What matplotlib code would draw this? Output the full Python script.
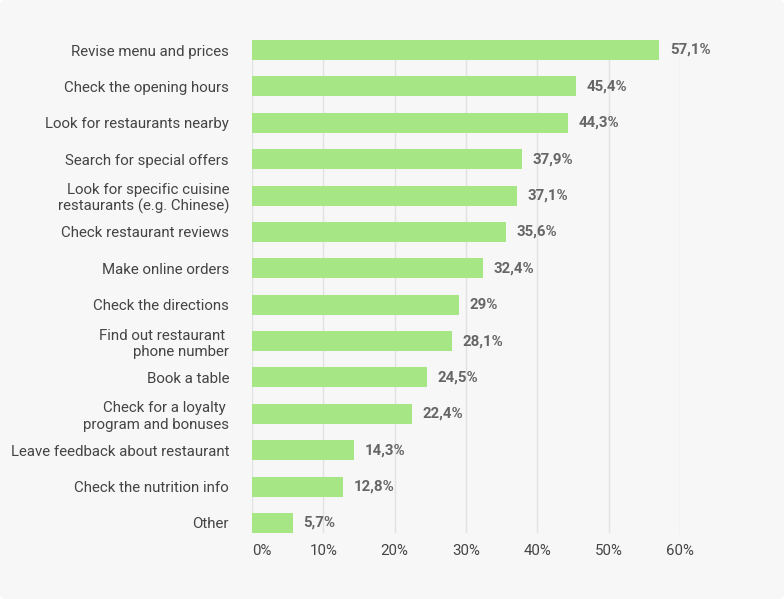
import matplotlib.pyplot as plt
from matplotlib.patches import FancyBboxPatch

plt.rcParams['font.family'] = ['Roboto', 'DejaVu Sans']

categories = ["Revise menu and prices", "Check the opening hours", "Look for restaurants nearby",
              "Search for special offers", "Look for specific cuisine\nrestaurants (e.g. Chinese)",
              "Check restaurant reviews", "Make online orders", "Check the directions",
              "Find out restaurant \nphone number", "Book a table",
              "Check for a loyalty \nprogram and bonuses", "Leave feedback about restaurant",
              "Check the nutrition info", "Other"]
values = [57.1, 45.4, 44.3, 37.9, 37.1, 35.6, 32.4, 29, 28.1, 24.5, 22.4, 14.3, 12.8, 5.7]
ticks = [0, 10, 20, 30, 40, 50, 60]

bg = '#f7f7f7'
W, H = 784, 599
fig = plt.figure(figsize=(W / 100, H / 100), dpi=100, facecolor='white')

# rounded panel behind everything
r = 6
panel = FancyBboxPatch((r, r), W - 2 * r, H - 2 * r, boxstyle='round,pad=%d' % r,
                       transform=None, facecolor=bg, edgecolor='none', zorder=-10)
fig.patches.append(panel)

ax = fig.add_axes([252/W, 1-533/H, 428/W, 493/H])
ax.set_facecolor(bg)
ax.patch.set_alpha(0)

ypos = list(range(len(categories)))
ax.barh(ypos, values, height=0.55, color='#a6e685', zorder=2)

for y, v in zip(ypos, values):
    txt = ('%g' % v).replace('.', ',') + '%'
    ax.annotate(txt, (v, y), xytext=(7.5, 0), textcoords='offset points',
                va='center', ha='left', fontsize=10.8, fontweight='bold', color='#666666')

ax.set_xlim(0, 60)
ax.set_ylim(len(categories) - 1 + 0.275, -0.275)
ax.set_yticks(ypos)
ax.set_yticklabels(categories, fontsize=10.8, color='#444444', linespacing=1.2)
ax.set_xticks(ticks)
ax.set_xticklabels([str(t) + '%' for t in ticks], fontsize=10.8, color='#444444')
ax.get_xticklabels()[0].set_horizontalalignment('left')
ax.tick_params(axis='both', length=0)
ax.tick_params(axis='y', pad=16.5)
ax.tick_params(axis='x', pad=8)
ax.grid(axis='x', color='#e2e2e2', linewidth=1, zorder=0)
for s in ax.spines.values():
    s.set_visible(False)

fig.savefig('out.png', dpi=100, facecolor='white')
